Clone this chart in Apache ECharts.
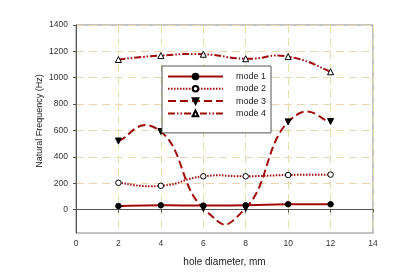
<!DOCTYPE html>
<html><head><meta charset="utf-8">
<script src="https://cdn.jsdelivr.net/npm/echarts@6/dist/echarts.min.js"></script>
<style>html,body{margin:0;padding:0;background:#fff}#c{width:396px;height:280px}</style>
</head><body><div id="c"></div>
<script>
var holeDiameter = [2, 4, 6, 8, 10, 12];
var mode1 = [27, 32, 30, 32, 40, 40];
var mode2 = [203, 180, 252, 252, 262, 265];
var mode3 = [520, 592, 10, 10, 665, 668];
var mode4 = [1138, 1168, 1178, 1144, 1160, 1045];
var yTicks = [0, 200, 400, 600, 800, 1000, 1200, 1400];
var seriesNames = ['mode 1', 'mode 2', 'mode 3', 'mode 4'];

var red = '#a00a0a';
var font = 'Liberation Sans, Arial, sans-serif';
function pts(v){ return holeDiameter.map(function(x,i){ return [x, v[i]]; }); }
var data = [mode1, mode2, mode3, mode4];
var styles = [
  {dash:'solid', sym:'circle', fill:'#000', size:5.5},
  {dash:[1.5,1.5], sym:'circle', fill:'#fff', size:5.5},
  {dash:[8,4], sym:'triangle', fill:'#000', rotate:180, size:6},
  {dash:[7,2,1.5,2,1.5,2], sym:'triangle', fill:'#fff', size:6}
];
var TENSION = 0.27;
function curveRenderer(values, style){
  return function(params, api){
    var p = holeDiameter.map(function(x,i){ return api.coord([x, values[i]]); });
    var d = 'M' + p[0][0] + ' ' + p[0][1];
    for (var i = 0; i < p.length - 1; i++){
      var p0 = p[Math.max(i-1,0)], p1 = p[i], p2 = p[i+1], p3 = p[Math.min(i+2,p.length-1)];
      var c1 = [p1[0] + TENSION*(p2[0]-p0[0]), p1[1] + TENSION*(p2[1]-p0[1])];
      var c2 = [p2[0] - TENSION*(p3[0]-p1[0]), p2[1] - TENSION*(p3[1]-p1[1])];
      d += ' C' + c1[0] + ' ' + c1[1] + ' ' + c2[0] + ' ' + c2[1] + ' ' + p2[0] + ' ' + p2[1];
    }
    return {type:'path', shape:{pathData:d}, style:{fill:null, stroke:red, lineWidth:2, lineDash:style.dash==='solid'?null:style.dash}, silent:true};
  };
}
var series = [];
data.forEach(function(v,i){
  series.push({
    name:seriesNames[i]+' curve', type:'custom', data:[[0,0]], renderItem:curveRenderer(v, styles[i]),
    encode:{x:[], y:[]}, z:1, silent:true, clip:true
  });
});
data.forEach(function(v,i){
  var s = styles[i];
  series.push({
    name:seriesNames[i], type:'line', data:pts(v),
    symbol:s.sym, symbolSize:s.size, symbolRotate:s.rotate||0, showAllSymbol:true,
    lineStyle:{color:red, width:0, opacity:0},
    itemStyle:{color:s.fill, borderColor:'#000', borderWidth:1},
    emphasis:{disabled:true}, z:3
  });
});
var chart = echarts.init(document.getElementById('c'), null, {renderer:'canvas'});
chart.setOption({
  animation:false,
  backgroundColor:'#fff',
  textStyle:{fontFamily:font},
  grid:{left:76, right:23, top:25, bottom:47, show:true, borderColor:'#888', borderWidth:1, containLabel:false},
  legend:{
    orient:'vertical', left:162, top:66,
    backgroundColor:'#fff', borderColor:'#555', borderWidth:1,
    padding:[6,5,15,5], itemWidth:55, itemHeight:7, itemGap:3.3,
    textStyle:{fontSize:9, color:'#222', fontFamily:font, padding:[0,0,0,8]},
    data: seriesNames.map(function(n,i){
      return {name:n, lineStyle:{color:red, width:2, opacity:1, type:styles[i].dash}};
    })
  },
  xAxis:{
    type:'value', min:0, max:14, interval:2,
    name:'hole diameter, mm', nameLocation:'middle', nameGap:24, nameMoveOverlap:false,
    nameTextStyle:{fontSize:10, color:'#222', fontFamily:font},
    axisLine:{lineStyle:{color:'#555'}},
    axisTick:{show:true, length:3, lineStyle:{color:'#555'}},
    axisLabel:{fontSize:8.5, color:'#333', margin:6, fontFamily:font},
    splitLine:{show:true, lineStyle:{color:'#e2e2a6', type:[8,5], width:1}}
  },
  yAxis:{
    type:'value', min:-178, max:1400,
    name:'Natural Frequency (Hz)', nameLocation:'middle', nameGap:32, nameMoveOverlap:false,
    nameTextStyle:{fontSize:9, color:'#222', fontFamily:font, padding:[0,0,0,16]},
    axisLine:{show:true, lineStyle:{color:'#555'}},
    axisTick:{show:true, length:3, lineStyle:{color:'#555'}, customValues:yTicks},
    axisLabel:{fontSize:8.5, color:'#333', margin:8, fontFamily:font, customValues:yTicks,
      formatter:function(v){ return String(v); }},
    splitLine:{show:true, lineStyle:{color:'#ebd6b0', type:[8,5], width:1}}
  },
  series: series
});
</script></body></html>
